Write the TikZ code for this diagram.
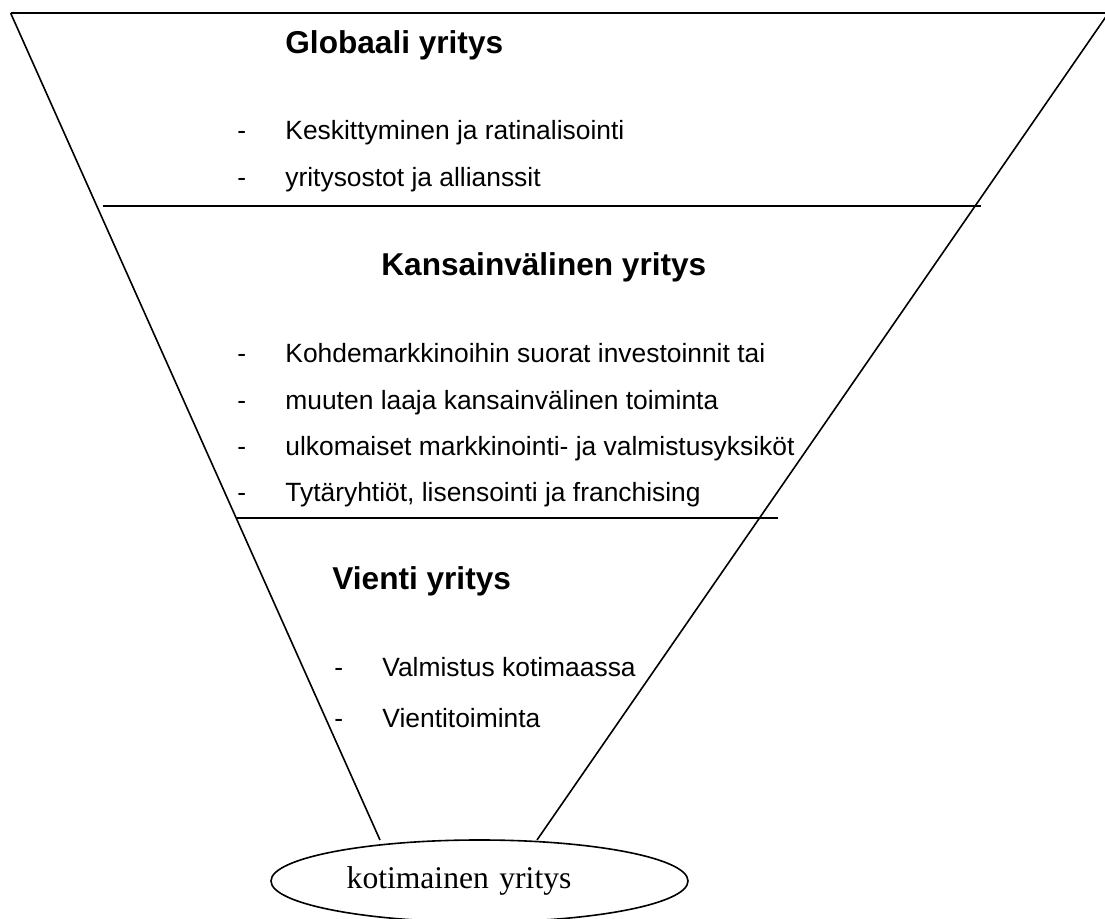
\documentclass[tikz,border=0pt]{standalone}
\usepackage{fontspec}
\setmainfont{Liberation Sans}
\newfontfamily\timesfont{Liberation Serif}
\usetikzlibrary{shapes.geometric}
\tikzset{
  viiva/.style={line width=0.8pt},
  otsikko/.style={anchor=base west, inner sep=0pt, font=\fontsize{15.8}{18}\selectfont\bfseries},
  kohta/.style={anchor=base west, inner sep=0pt, font=\fontsize{13.2}{15}\selectfont},
  pohja/.style={draw, ellipse, viiva, minimum width=208.5pt, minimum height=41pt, inner sep=0pt,
    text width=132.8pt, align=left, font=\timesfont\fontsize{15.8}{18}\selectfont}
}
\newcommand{\ajatusviiva}{\makebox[24pt][l]{-}}

\begin{document}
\begin{tikzpicture}[x=0.5pt,y=-0.5pt]
    \useasboundingbox (0,0) rectangle (1105,919);
    % Suppilon reunat
    \coordinate (vasyla) at (10.6,13);
    \coordinate (oikyla) at (1108.5,13);
    \coordinate (vasala) at (380,840);
    \coordinate (oikala) at (537,840);
    \draw[viiva] (vasyla) -- (oikyla);
    \draw[viiva] (vasyla) -- (vasala);
    \draw[viiva] (oikyla) -- (oikala);
    % Tasojen rajat
    \coordinate (raja1v) at (103,206);
    \coordinate (raja1o) at (981,206);
    \coordinate (raja2v) at (237,518);
    \coordinate (raja2o) at (778,518);
    \draw[viiva] (raja1v) -- (raja1o);
    \draw[viiva] (raja2v) -- (raja2o);
    % Globaali yritys
    \node[otsikko] (globaali) at (285,54) {Globaali yritys};
    \node[kohta] (keskitys) at (237,140) {\ajatusviiva Keskittyminen ja ratinalisointi};
    \node[kohta] (ostot) at (237,187) {\ajatusviiva yritysostot ja allianssit};
    % Kansainvalinen yritys
    \node[otsikko] (kansainv) at (381,276) {Kansainvälinen yritys};
    \node[kohta] (investoinnit) at (237,363) {\ajatusviiva Kohdemarkkinoihin suorat investoinnit tai};
    \node[kohta] (toiminta) at (237,409.3) {\ajatusviiva muuten laaja kansainvälinen toiminta};
    \node[kohta] (yksikot) at (237,455.6) {\ajatusviiva ulkomaiset markkinointi- ja valmistusyksiköt};
    \node[kohta] (tytar) at (237,501.9) {\ajatusviiva Tytäryhtiöt, lisensointi ja franchising};
    % Vienti yritys
    \node[otsikko] (vienti) at (332,590) {Vienti yritys};
    \node[kohta] (valmistus) at (334,677) {\ajatusviiva Valmistus kotimaassa};
    \node[kohta] (vientitoim) at (334,728) {\ajatusviiva Vientitoiminta};
    % Kotimainen yritys
    \node[pohja] (kotimainen) at (479.5,881) {kotimainen yritys};
\end{tikzpicture}
\end{document}
